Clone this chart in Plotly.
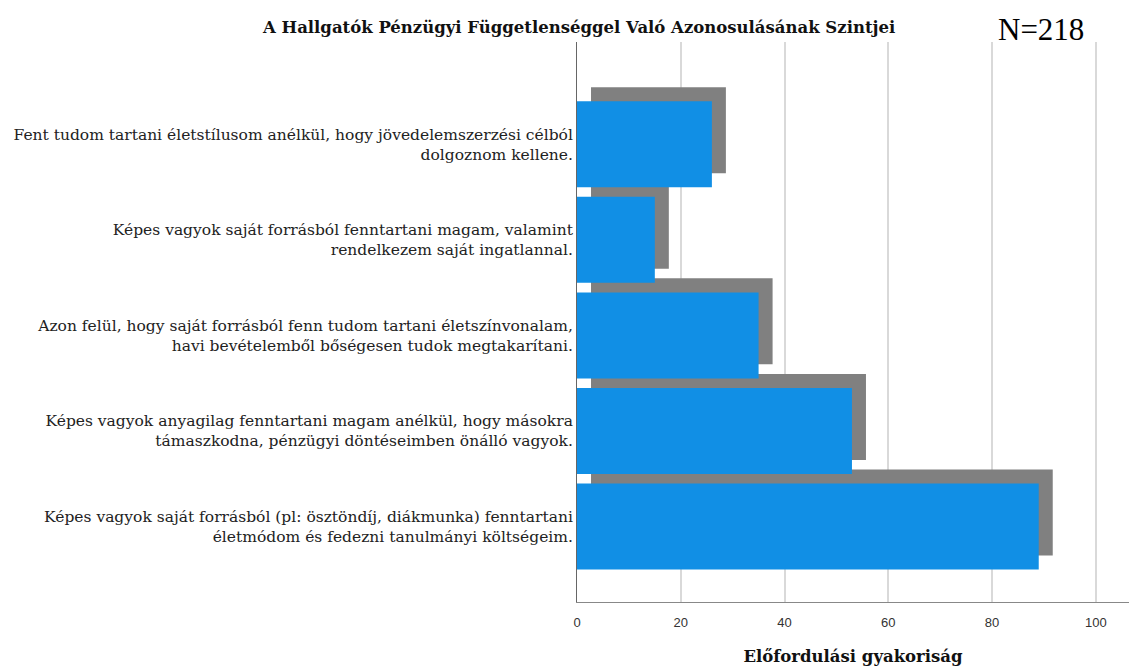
import plotly.graph_objects as go

categories = [
    "Képes vagyok saját forrásból (pl: ösztöndíj, diákmunka) fenntartani<br>életmódom és fedezni tanulmányi költségeim.",
    "Képes vagyok anyagilag fenntartani magam anélkül, hogy másokra<br>támaszkodna, pénzügyi döntéseimben önálló vagyok.",
    "Azon felül, hogy saját forrásból fenn tudom tartani életszínvonalam,<br>havi bevételemből bőségesen tudok megtakarítani.",
    "Képes vagyok saját forrásból fenntartani magam, valamint<br>rendelkezem saját ingatlannal.",
    "Fent tudom tartani életstílusom anélkül, hogy jövedelemszerzési célból<br>dolgoznom kellene.",
]
values = [89, 53, 35, 15, 26]
x_ticks = [0, 20, 40, 60, 80, 100]

pos = list(range(len(categories)))
dx = 2.7     # shadow offset in x units (~14px)
dy = 0.147   # shadow offset in category units (~14px)

fig = go.Figure()
fig.add_trace(go.Bar(
    y=[p + dy for p in pos], x=values, base=dx, orientation="h",
    width=0.9, marker=dict(color="#808080", line=dict(width=0)),
    hoverinfo="skip", showlegend=False,
))
fig.add_trace(go.Bar(
    y=pos, x=values, orientation="h",
    width=0.9, marker=dict(color="#118FE5", line=dict(width=0)),
    showlegend=False,
))

fig.update_layout(
    width=1129, height=666,
    barmode="overlay",
    plot_bgcolor="white", paper_bgcolor="white",
    margin=dict(l=577, r=0, t=42, b=64, autoexpand=False),
    font=dict(family="DejaVu Serif", color="#222222"),
    xaxis=dict(
        range=[0, 106.4], tickvals=x_ticks, ticktext=[str(v) for v in x_ticks],
        showgrid=True, gridcolor="#d9d9d9", gridwidth=2,
        showline=True, linecolor="#888888", linewidth=1,
        ticks="", zeroline=False, ticklabelstandoff=8,
        tickfont=dict(family="Liberation Sans", size=13, color="#333333"),
        title=dict(text="<b>Előfordulási gyakoriság</b>",
                   font=dict(family="DejaVu Serif", size=16.5, color="#111111"),
                   standoff=22),
    ),
    yaxis=dict(
        range=[-0.79, 5.07], tickvals=pos, ticktext=categories,
        showgrid=False, showline=True, linecolor="#666666", linewidth=1,
        ticks="", zeroline=False,
        tickfont=dict(family="DejaVu Serif", size=15.5, color="#222222"),
    ),
    annotations=[
        dict(text="<b>A Hallgatók Pénzügyi Függetlenséggel Való Azonosulásának Szintjei</b>",
             x=578, y=27, xref="paper", yref="paper", showarrow=False,
             font=dict(family="DejaVu Serif", size=16.5, color="#111111")),
        dict(text="N=218", x=1041, y=29, xref="paper", yref="paper", showarrow=False,
             font=dict(family="Liberation Serif", size=31, color="#000000")),
    ],
)
# convert pixel positions of annotations into paper coordinates
pw, ph = 1129 - 577, 666 - 42 - 64
for a in fig.layout.annotations:
    a.x = (a.x - 577) / pw
    a.y = (666 - 64 - a.y) / ph
    a.xanchor = "center"; a.yanchor = "middle"

fig.write_html("out.html", config={"displayModeBar": False},
               post_script="document.body.style.margin='0';")
